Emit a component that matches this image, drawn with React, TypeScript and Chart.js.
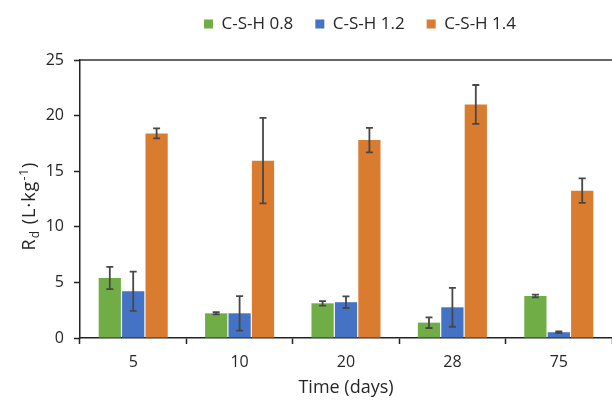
import React, { useEffect, useRef } from "react";
import { Chart, registerables } from "chart.js";

Chart.register(...registerables);

const categories = ["5", "10", "20", "28", "75"];
const seriesNames = ["C-S-H 0.8", "C-S-H 1.2", "C-S-H 1.4"];
const csh08 = [5.4, 2.22, 3.12, 1.38, 3.78];
const csh08Err = [1.0, 0.1, 0.2, 0.48, 0.12];
const csh12 = [4.2, 2.22, 3.22, 2.76, 0.52];
const csh12Err = [1.76, 1.55, 0.52, 1.75, 0.07];
const csh14 = [18.4, 15.95, 17.8, 21.0, 13.25];
const csh14Err = [0.45, 3.85, 1.1, 1.75, 1.1];
const yTicks = [0, 5, 10, 15, 20, 25];

const seriesValues = [csh08, csh12, csh14];
const seriesErrors = [csh08Err, csh12Err, csh14Err];
const seriesColors = ["#70AD47", "#4472C4", "#DA7C30"];

const FONT = "'Open Sans', 'DejaVu Sans', sans-serif";
const TEXT = "#262626";

const errorBarPlugin = {
  id: "errorBars",
  afterDatasetsDraw(chart: any) {
    const ctx = chart.ctx;
    const y = chart.scales.y;
    ctx.save();
    ctx.strokeStyle = "#474747";
    ctx.lineWidth = 1.8;
    chart.data.datasets.forEach((ds: any, di: number) => {
      const meta = chart.getDatasetMeta(di);
      const errs = seriesErrors[di];
      meta.data.forEach((bar: any, i: number) => {
        const v = ds.data[i];
        const e = errs[i];
        const x = bar.x;
        const yTop = y.getPixelForValue(v + e);
        const yBot = y.getPixelForValue(v - e);
        ctx.beginPath();
        ctx.moveTo(x, yTop);
        ctx.lineTo(x, yBot);
        ctx.moveTo(x - 3.5, yTop);
        ctx.lineTo(x + 3.5, yTop);
        ctx.moveTo(x - 3.5, yBot);
        ctx.lineTo(x + 3.5, yBot);
        ctx.stroke();
      });
    });
    ctx.restore();
  },
};

const frameTopPlugin = {
  id: "frameTop",
  afterDraw(chart: any) {
    const { ctx, chartArea } = chart;
    ctx.save();
    ctx.strokeStyle = "#333";
    ctx.lineWidth = 1.5;
    ctx.beginPath();
    ctx.moveTo(chartArea.left, chartArea.top);
    ctx.lineTo(chartArea.right, chartArea.top);
    ctx.stroke();
    ctx.restore();
  },
};

const yTitlePlugin = {
  id: "yTitle",
  afterDraw(chart: any) {
    const ctx = chart.ctx;
    const parts = [
      { t: "R", size: 18, dy: 0 },
      { t: "d", size: 12, dy: 4 },
      { t: " (L·kg", size: 18, dy: 0 },
      { t: "-1", size: 12, dy: -7 },
      { t: ")", size: 18, dy: 0 },
    ];
    ctx.save();
    ctx.fillStyle = TEXT;
    ctx.textBaseline = "alphabetic";
    ctx.textAlign = "left";
    try {
      (ctx as any).letterSpacing = "1px";
    } catch (e) {}
    let total = 0;
    const widths = parts.map((p) => {
      ctx.font = `${p.size}px ${FONT}`;
      const w = ctx.measureText(p.t).width;
      total += w;
      return w;
    });
    ctx.translate(28, 206);
    ctx.rotate(-Math.PI / 2);
    let x = -total / 2;
    parts.forEach((p, i) => {
      ctx.font = `${p.size}px ${FONT}`;
      ctx.fillText(p.t, x, 6.5 + p.dy);
      x += widths[i];
    });
    ctx.restore();
  },
};

const LEGEND_PAD = 22;
const legendShiftPlugin = {
  id: "legendShift",
  afterLayout(chart: any) {
    const lg = chart.legend;
    if (!lg) return;
    lg.left = 204 - LEGEND_PAD;
    const newTop = 24 - 8.5 - LEGEND_PAD;
    const dy = newTop - lg.top;
    lg.top += dy;
    lg.bottom += dy;
  },
};

export default function App() {
  const canvasRef = useRef<HTMLCanvasElement | null>(null);

  useEffect(() => {
    document.body.style.margin = "0";
    const canvas = canvasRef.current;
    if (!canvas) return;
    const chart = new Chart(canvas, {
      type: "bar",
      data: {
        labels: categories,
        datasets: seriesNames.map((name, i) => ({
          label: name,
          data: seriesValues[i],
          backgroundColor: seriesColors[i],
          borderWidth: 0,
          categoryPercentage: 0.66,
          barPercentage: 0.95,
        })),
      },
      options: {
        animation: false,
        responsive: false,
        devicePixelRatio: 1,
        layout: { padding: { top: 11, left: 0, right: 0, bottom: 0 } },
        plugins: {
          legend: {
            display: true,
            position: "top",
            align: "start",
            labels: {
              boxWidth: 9,
              boxHeight: 9,
              padding: LEGEND_PAD,
              color: TEXT,
              font: { family: FONT, size: 17 },
            },
          },
          tooltip: { enabled: false },
        },
        scales: {
          x: {
            afterFit: (s: any) => {
              s.height = 62;
            },
            grid: {
              display: true,
              drawOnChartArea: false,
              drawTicks: true,
              tickLength: 6,
              tickColor: "#222",
              tickWidth: 1.5,
              offset: true,
            },
            border: { display: true, color: "#222", width: 1.5 },
            ticks: { color: TEXT, font: { family: FONT, size: 16 }, padding: 9 },
            title: {
              display: true,
              text: "Time (days)",
              color: TEXT,
              font: { family: FONT, size: 18 },
              padding: { top: 0, bottom: 1 },
            },
          },
          y: {
            min: 0,
            max: 25,
            afterBuildTicks: (s: any) => {
              s.ticks = yTicks.map((v) => ({ value: v }));
            },
            afterFit: (s: any) => {
              s.width = 80;
            },
            grid: {
              display: true,
              drawOnChartArea: false,
              drawTicks: true,
              tickLength: 6,
              tickColor: "#222",
              tickWidth: 1.5,
            },
            border: { display: true, color: "#222", width: 1.5 },
            ticks: { color: TEXT, font: { family: FONT, size: 16 }, padding: 10 },
          },
        },
      },
      plugins: [legendShiftPlugin, errorBarPlugin, frameTopPlugin, yTitlePlugin],
    });
    return () => chart.destroy();
  }, []);

  return (
    <div style={{ width: 612, height: 400, position: "relative" }}>
      <canvas ref={canvasRef} width={612} height={400} />
    </div>
  );
}
